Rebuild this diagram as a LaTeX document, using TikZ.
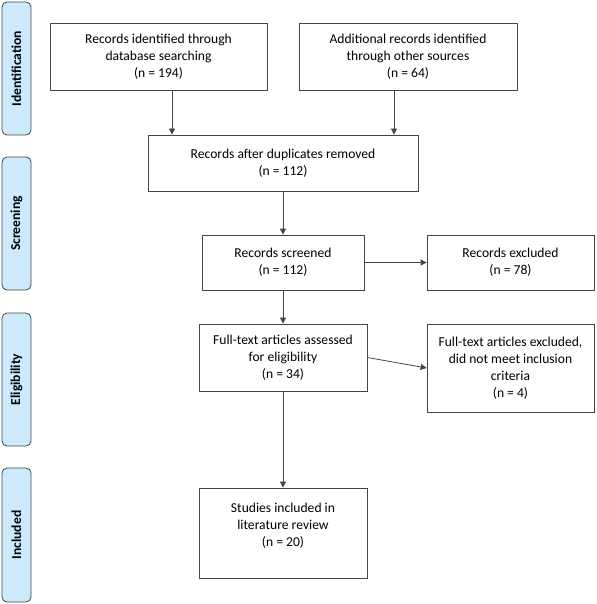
\documentclass[tikz,border=0pt]{standalone}
\usepackage{fontspec}
\setmainfont{Carlito}
\usetikzlibrary{arrows.meta,positioning,calc}
\definecolor{fasefondo}{HTML}{CDE9FC}
\definecolor{borde}{HTML}{454545}

\begin{document}
\begin{tikzpicture}[
            x=1pt, y=-1pt,
            caja/.style={draw=borde, thick, font=\fontsize{13.6}{17}\selectfont, align=center, inner sep=2pt},
            fase/.style={draw=borde, thick, fill=fasefondo, rounded corners=5pt, rotate=90,
                minimum height=29pt, font=\bfseries\fontsize{13.6}{15}\selectfont, inner sep=0pt},
            flecha/.style={-{Triangle[length=6pt,width=6pt]}, thick, draw=borde}
        ]
        \useasboundingbox (0,0) rectangle (596,604);

        % Fases a la izquierda
        \node[fase, minimum width=133pt] (fident) at (16.5,68.5) {Identification};
        \node[fase, minimum width=133pt] (fscreen) at (16.5,223.5) {Screening};
        \node[fase, minimum width=133pt] (felig) at (16.5,379.5) {Eligibility};
        \node[fase, minimum width=134pt] (fincl) at (16.5,535) {Included};

        % Identificación
        \node[caja, minimum width=217pt, minimum height=67pt] (base) at (158.5,56.5)
        {Records identified through\\database searching\\(n = 194)};
        \node[caja, minimum width=218pt, minimum height=67pt] (otras) at (408,56.5)
        {Additional records identified\\through other sources\\(n = 64)};

        % Cribado
        \node[caja, minimum width=270pt, minimum height=56pt] (dupl) at (283,163)
        {Records after duplicates removed\\(n = 112)};
        \node[caja, minimum width=162pt, minimum height=55pt] (cribados) at (283,262.5)
        {Records screened\\(n = 112)};
        \node[caja, minimum width=167pt, minimum height=55pt] (excl) at (510.5,262.5)
        {Records excluded\\(n = 78)};

        % Elegibilidad
        \node[caja, minimum width=168pt, minimum height=67pt] (texto) at (283,357.5)
        {Full-text articles assessed\\for eligibility\\(n = 34)};
        \node[caja, minimum width=167pt, minimum height=88pt] (textoexcl) at (510.5,368)
        {Full-text articles excluded,\\did not meet inclusion\\criteria\\(n = 4)};

        % Incluidos
        \node[caja, minimum width=168pt, minimum height=90pt] (incl) at (283,533)
        {Studies included in\\literature review\\(n = 20)\\\mbox{}};

        % Flechas
        \draw[flecha] ([xshift=13.5pt]base.south) -- ([xshift=13.5pt]base.south |- dupl.north);
        \draw[flecha] ([xshift=-14pt]otras.south) -- ([xshift=-14pt]otras.south |- dupl.north);
        \draw[flecha] (dupl.south) -- (cribados.north);
        \draw[flecha] (cribados.east) -- (excl.west);
        \draw[flecha] (cribados.south) -- (texto.north);
        \draw[flecha] (texto.east) -- (textoexcl.west);
        \draw[flecha] (texto.south) -- (incl.north);

    \end{tikzpicture}
\end{document}
